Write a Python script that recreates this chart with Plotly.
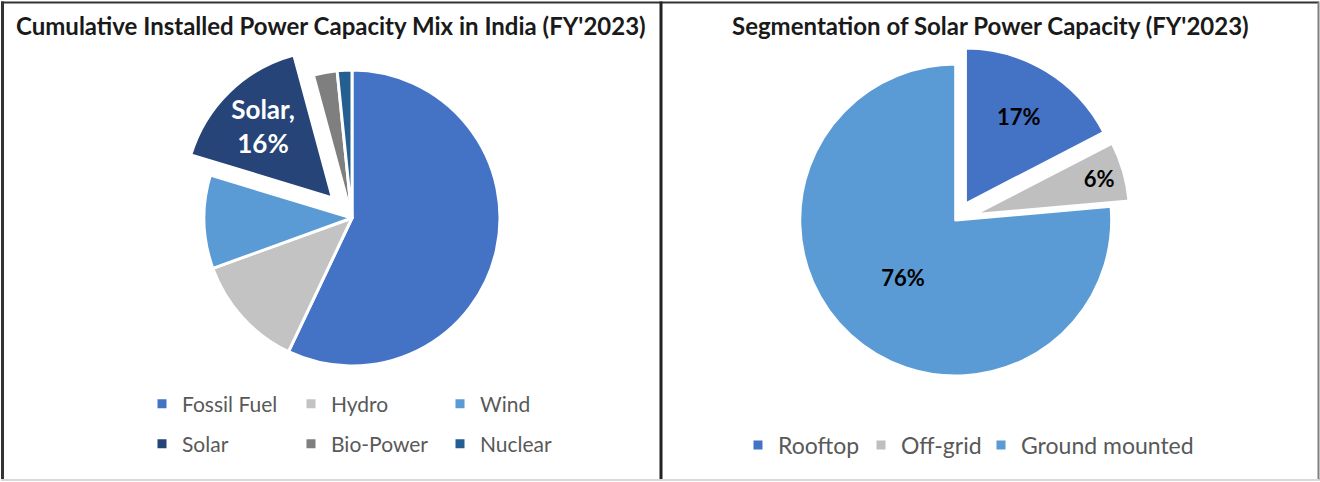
import plotly.graph_objects as go

# ---- data ----
mix_labels = ["Fossil Fuel", "Hydro", "Wind", "Solar", "Bio-Power", "Nuclear"]
mix_values = [57.0, 12.4, 10.2, 16.1, 2.6, 1.6]
mix_colors = ["#4472C4", "#C3C3C3", "#5B9BD5", "#264478", "#7F7F7F", "#255E91"]
mix_pull = [0, 0, 0, 0.19, 0, 0]

seg_labels = ["Rooftop", "Off-grid", "Ground mounted"]
seg_values = [17.4, 6.2, 76.4]
seg_colors = ["#4472C4", "#BFBFBF", "#5B9BD5"]
seg_pull = [0.12, 0.12, 0]
seg_legend_widths = [78, 75, None]

title_left = "Cumulative Installed Power Capacity Mix in India (FY'2023)"
title_right = "Segmentation of Solar Power Capacity (FY'2023)"

W, H = 1320, 482
FONT = "Lato"


def px(x):
    return x / W


def py(y):
    return 1 - y / H


fig = go.Figure()

# left pie
fig.add_trace(go.Pie(
    labels=mix_labels, values=mix_values, sort=False, direction="clockwise", rotation=0,
    pull=mix_pull,
    marker=dict(colors=mix_colors, line=dict(color="white", width=3)),
    texttemplate=["", "", "", "%{label},<br>%{percent:.0%}", "", ""],
    textposition="inside", insidetextorientation="horizontal",
    textfont=dict(family=FONT, size=26, color="white", weight="bold"),
    domain=dict(x=[px(175.9), px(528.1)], y=[py(394.1), py(41.9)]),
    showlegend=False, hoverinfo="label+percent",
))

# right pie
fig.add_trace(go.Pie(
    labels=seg_labels, values=seg_values, sort=False, direction="clockwise", rotation=0,
    pull=seg_pull,
    marker=dict(colors=seg_colors, line=dict(color="white", width=3)),
    texttemplate="%{percent:.0%}",
    textposition="inside", insidetextorientation="horizontal",
    textfont=dict(family=FONT, size=22, color="black", weight="bold"),
    domain=dict(x=[px(781.0), px(1130.4)], y=[py(394.7), py(45.3)]),
    showlegend=False, hoverinfo="label+percent",
))

# legend keys
for i, (lab, col) in enumerate(zip(mix_labels, mix_colors)):
    fig.add_trace(go.Scatter(
        x=[None], y=[None], mode="markers", name=lab,
        marker=dict(symbol="square", size=9, color=col),
        legend="legend" if i < 3 else "legend2", showlegend=True,
    ))
for lab, col, lw in zip(seg_labels, seg_colors, seg_legend_widths):
    fig.add_trace(go.Scatter(
        x=[None], y=[None], mode="markers", name=lab,
        marker=dict(symbol="square", size=9, color=col),
        legend="legend3", showlegend=True, legendwidth=lw,
    ))

leg_common = dict(orientation="h", xanchor="left", yanchor="middle",
                  bgcolor="rgba(0,0,0,0)", itemclick=False, itemdoubleclick=False)

shapes = [
    dict(type="line", x0=px(4), x1=px(1319), y0=py(2), y1=py(2), line=dict(color="#333333", width=2)),
    dict(type="line", x0=px(5.5), x1=px(5.5), y0=py(1), y1=py(481), line=dict(color="#333333", width=3)),
    dict(type="line", x0=px(662.5), x1=px(662.5), y0=py(1), y1=py(481), line=dict(color="#222222", width=3)),
    dict(type="line", x0=px(1318.5), x1=px(1318.5), y0=py(1), y1=py(481), line=dict(color="#808080", width=2)),
    dict(type="line", x0=px(4), x1=px(1319), y0=py(480.5), y1=py(480.5), line=dict(color="#D9D9D9", width=2)),
]

annotations = [
    dict(text="<b>%s</b>" % title_left, x=px(331), y=py(25), xref="paper", yref="paper",
         showarrow=False, xanchor="center", yanchor="middle",
         font=dict(family=FONT, size=24, color="#1a1a1a")),
    dict(text="<b>%s</b>" % title_right, x=px(990), y=py(25), xref="paper", yref="paper",
         showarrow=False, xanchor="center", yanchor="middle",
         font=dict(family=FONT, size=24, color="#1a1a1a")),
]

fig.update_layout(
    width=W, height=H,
    margin=dict(l=0, r=0, t=0, b=0),
    paper_bgcolor="white", plot_bgcolor="white",
    xaxis=dict(visible=False), yaxis=dict(visible=False),
    legend=dict(x=px(142), y=py(404), entrywidth=104, entrywidthmode="pixels",
                font=dict(family=FONT, size=21, color="#595959"), **leg_common),
    legend2=dict(x=px(142), y=py(444), entrywidth=104, entrywidthmode="pixels",
                 font=dict(family=FONT, size=21, color="#595959"), **leg_common),
    legend3=dict(x=px(738), y=py(445),
                 font=dict(family=FONT, size=23, color="#595959"), **leg_common),
    shapes=shapes,
    annotations=annotations,
)

fig.write_html("out.html", config={"displayModeBar": False},
               post_script="document.body.style.margin='0px';")
